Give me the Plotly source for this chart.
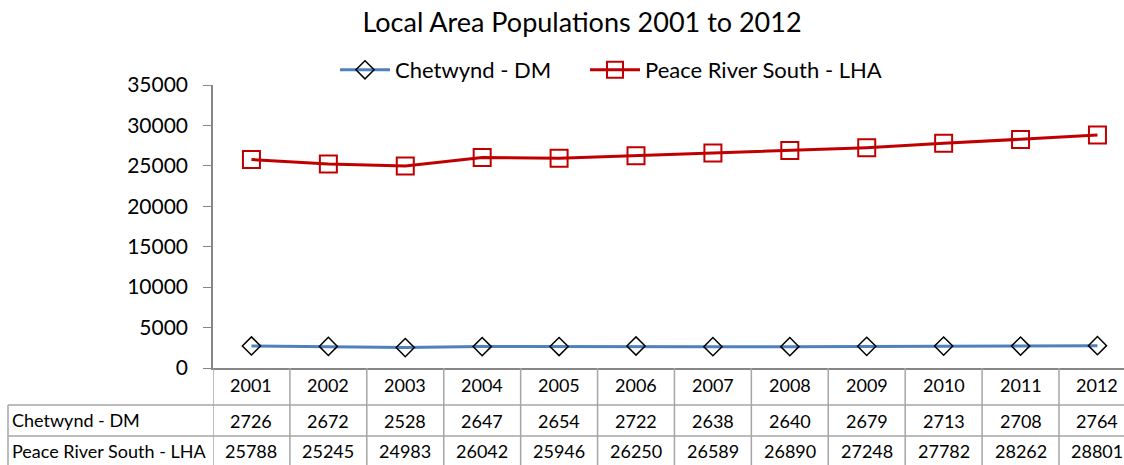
import plotly.graph_objects as go

years = ["2001", "2002", "2003", "2004", "2005", "2006", "2007", "2008", "2009", "2010", "2011", "2012"]
chetwynd = [2726, 2672, 2528, 2647, 2654, 2722, 2638, 2640, 2679, 2713, 2708, 2764]
peace = [25788, 25245, 24983, 26042, 25946, 26250, 26589, 26890, 27248, 27782, 28262, 28801]
series_names = ["Chetwynd - DM", "Peace River South - LHA"]
y_ticks = [0, 5000, 10000, 15000, 20000, 25000, 30000, 35000]

W, H = 1124, 465
L, T, B = 213, 85, 97
plot_h = H - T - B
FONT = "Lato, 'Open Sans', sans-serif"

def py(p):
    # pixel y -> paper y
    return (H - B - p) / plot_h

xs = list(range(len(years)))
fig = go.Figure()
fig.add_trace(go.Scatter(x=xs, y=chetwynd, name=series_names[0], mode="lines+markers",
                         line=dict(color="#4F81BD", width=3), legend="legend",
                         marker=dict(symbol="diamond-open", size=14, color="black",
                                     line=dict(width=1.5, color="black"))))
fig.add_trace(go.Scatter(x=xs, y=peace, name=series_names[1], mode="lines+markers",
                         line=dict(color="#C00000", width=3), legend="legend2",
                         marker=dict(symbol="square-open", size=17, color="#C00000",
                                     line=dict(width=2, color="#C00000"))))

shapes = []
annos = []
grid = "#A6A6A6"
# vertical lines for table
for i in range(len(years) + 1):
    shapes.append(dict(type="line", xref="x", yref="paper", x0=i - 0.5, x1=i - 0.5,
                       y0=py(368), y1=py(470), line=dict(color=grid, width=1.5)))
# left label column border
lx = (8 - L) / (W - L)
shapes.append(dict(type="line", xref="paper", yref="paper", x0=lx, x1=lx,
                   y0=py(405), y1=py(470), line=dict(color=grid, width=1.5)))
for p in [405, 436]:
    shapes.append(dict(type="line", xref="paper", yref="paper", x0=lx, x1=1.0,
                       y0=py(p), y1=py(p), line=dict(color=grid, width=1.5)))

tf = dict(family=FONT, size=18, color="black")
for i, yr in enumerate(years):
    annos.append(dict(x=i, y=py(385), xref="x", yref="paper", text=yr, showarrow=False, font=tf, yanchor="middle"))
    annos.append(dict(x=i, y=py(421), xref="x", yref="paper", text=str(chetwynd[i]), showarrow=False, font=tf, yanchor="middle"))
    annos.append(dict(x=i, y=py(451), xref="x", yref="paper", text=str(peace[i]), showarrow=False, font=tf, yanchor="middle"))
for name, p in zip(series_names, [420, 451]):
    annos.append(dict(x=(10 - L) / (W - L), y=py(p), xref="paper", yref="paper", text=name,
                      showarrow=False, xanchor="left", yanchor="middle", font=tf))

leg = dict(orientation="h", xref="container", yref="container", y=1 - 70 / H,
           xanchor="left", yanchor="middle", font=dict(family=FONT, size=22, color="black"),
           bgcolor="rgba(0,0,0,0)", itemwidth=50)

fig.update_layout(
    width=W, height=H,
    margin=dict(l=L, r=0, t=T, b=B, autoexpand=False),
    paper_bgcolor="white", plot_bgcolor="white",
    title=dict(text="Local Area Populations 2001 to 2012", x=582 / W, xanchor="center", xref="container",
               y=1 - 23 / H, yanchor="middle", yref="container",
               font=dict(family=FONT, size=27, color="black")),
    legend=dict(leg, x=335 / W),
    legend2=dict(leg, x=585 / W),
    xaxis=dict(range=[-0.5, (W - L) / ((1098 - 252) / 11) - 0.5], showticklabels=False, showgrid=False,
               zeroline=False, showline=True, linecolor="#868686", linewidth=1.5, ticks=""),
    yaxis=dict(range=[0, 35000], tickvals=y_ticks, tickformat="d", showgrid=False, zeroline=False,
               showline=True, linecolor="#868686", linewidth=1.5, ticks="outside", ticklen=8,
               tickcolor="#868686", tickfont=dict(family=FONT, size=21, color="black"), ticklabelstandoff=11),
    shapes=shapes, annotations=annos,
    showlegend=True,
)
fig.write_html("out.html")
